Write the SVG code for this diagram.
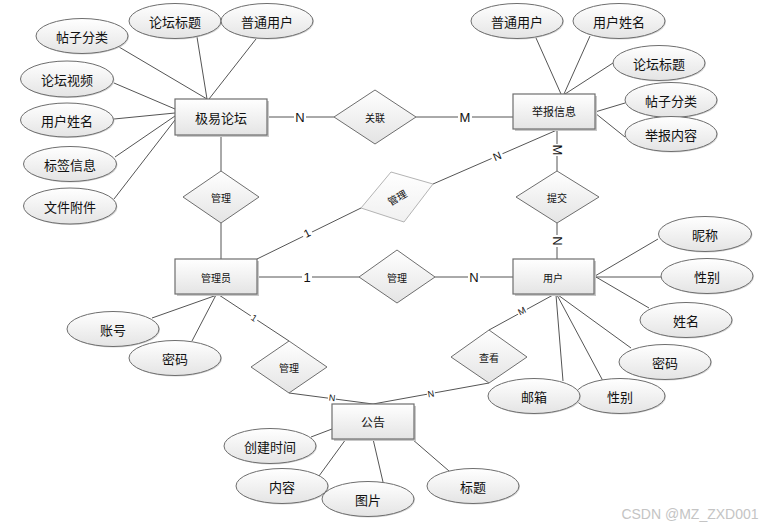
<svg xmlns="http://www.w3.org/2000/svg" width="764" height="528" viewBox="0 0 764 528">
<defs>
<linearGradient id="g" x1="0" y1="0" x2="0" y2="1">
<stop offset="0" stop-color="#ffffff"/>
<stop offset="1" stop-color="#e4e4e4"/>
</linearGradient>
<linearGradient id="gl" x1="0" y1="0" x2="0" y2="1">
<stop offset="0" stop-color="#ffffff"/>
<stop offset="1" stop-color="#f0f0f0"/>
</linearGradient>
</defs>
<style>
.ent rect.b{fill:url(#g);stroke:#6e6e6e;stroke-width:1.2}
.ent rect.s{fill:#c8c8c8}
.att ellipse.b{fill:url(#g);stroke:#6e6e6e;stroke-width:1}
.att ellipse.s{fill:#d4d4d4}
.rel polygon{fill:url(#g);stroke:#6e6e6e;stroke-width:1}
.rel.light polygon{fill:url(#gl);stroke:#b4b4b4}
text{font-family:"Noto Sans CJK SC","Liberation Sans",sans-serif;fill:#111;text-anchor:middle;dominant-baseline:central}
.t13{font-size:13px}
.t12{font-size:12px}
.t11{font-size:11px}
.t10{font-size:10px}
.card{font-family:"Liberation Sans",Arial,sans-serif;font-size:13px}
.cs{font-family:"Liberation Sans",Arial,sans-serif;font-size:11px}
.cx{font-family:"Liberation Sans",Arial,sans-serif;font-size:9px}
#connectors line{stroke:#555;stroke-width:1}
.lbg{fill:#fff}
</style>

<g id="connectors">
<!-- 极易论坛 attributes -->
<line x1="119" y1="47" x2="207" y2="99"/>
<line x1="197" y1="37" x2="207" y2="99"/>
<line x1="256" y1="39" x2="209" y2="99"/>
<line x1="114" y1="83" x2="175" y2="109"/>
<line x1="114" y1="119" x2="175" y2="113"/>
<line x1="115" y1="157" x2="175" y2="116"/>
<line x1="114" y1="199" x2="175" y2="120"/>
<!-- 举报信息 attributes -->
<line x1="536" y1="38" x2="561" y2="94"/>
<line x1="590" y1="36" x2="564" y2="94"/>
<line x1="613" y1="63" x2="565" y2="94"/>
<line x1="625" y1="103" x2="595" y2="112"/>
<line x1="625" y1="137" x2="595" y2="113"/>
<!-- 用户 attributes -->
<line x1="658" y1="239" x2="595" y2="276"/>
<line x1="662" y1="277" x2="595" y2="277"/>
<line x1="649" y1="308" x2="596" y2="277"/>
<line x1="631" y1="348" x2="558" y2="295"/>
<line x1="603" y1="381" x2="557" y2="295"/>
<line x1="563" y1="381" x2="556" y2="295"/>
<!-- 管理员 attributes -->
<line x1="152" y1="318" x2="217" y2="295"/>
<line x1="192" y1="341" x2="216" y2="295"/>
<!-- 公告 attributes -->
<line x1="311" y1="437" x2="332" y2="429"/>
<line x1="319" y1="476" x2="346" y2="439"/>
<line x1="383" y1="482" x2="373" y2="439"/>
<line x1="449" y1="471" x2="412" y2="439"/>
<!-- relationships -->
<line x1="267" y1="117" x2="334" y2="117"/>
<line x1="416" y1="117" x2="513" y2="117"/>
<line x1="221" y1="135" x2="221" y2="171"/>
<line x1="221" y1="223" x2="221" y2="259"/>
<line x1="557" y1="129" x2="557" y2="171"/>
<line x1="557" y1="223" x2="557" y2="259"/>
<line x1="257" y1="259" x2="361" y2="208"/>
<line x1="433" y1="184" x2="557" y2="130"/>
<line x1="257" y1="277" x2="359" y2="277"/>
<line x1="435" y1="277" x2="513" y2="277"/>
<line x1="219" y1="295" x2="289" y2="341"/>
<line x1="289" y1="393" x2="373" y2="404"/>
<line x1="553" y1="295" x2="489" y2="330"/>
<line x1="489" y1="383" x2="373" y2="404"/>
<!-- cardinality labels -->
<rect class="lbg" x="294" y="110" width="12" height="14"/>
<text class="card" x="300" y="117">N</text>
<rect class="lbg" x="458" y="110" width="14" height="14"/>
<text class="card" x="465" y="117">M</text>
<rect class="lbg" x="551" y="144" width="12" height="12"/>
<text class="card" x="557" y="150" transform="rotate(90 557 150)">M</text>
<rect class="lbg" x="551" y="235" width="12" height="12"/>
<text class="card" x="557" y="241" transform="rotate(90 557 241)">N</text>
<rect class="lbg" x="302" y="227" width="10" height="12" transform="rotate(-26 307 233)"/>
<text class="cs" x="307" y="233" transform="rotate(-26 307 233)">1</text>
<rect class="lbg" x="491" y="150" width="12" height="12" transform="rotate(-23 497 156)"/>
<text class="cs" x="497" y="156" transform="rotate(-23 497 156)">N</text>
<rect class="lbg" x="302" y="270" width="10" height="14"/>
<text class="card" x="307" y="277">1</text>
<rect class="lbg" x="468" y="270" width="12" height="14"/>
<text class="card" x="474" y="277">N</text>
<rect class="lbg" x="250" y="313" width="8" height="10" transform="rotate(33 254 318)"/>
<text class="cx" x="254" y="318" transform="rotate(33 254 318)">1</text>
<rect class="lbg" x="517" y="306" width="10" height="10" transform="rotate(-28 522 311)"/>
<text class="cx" x="522" y="311" transform="rotate(-28 522 311)">M</text>
<rect class="lbg" x="427" y="390" width="8" height="9" transform="rotate(-10 431 394)"/>
<text class="cx" x="431" y="394" transform="rotate(-10 431 394)">N</text>
<rect class="lbg" x="328" y="394" width="8" height="9" transform="rotate(7 332 398)"/>
<text class="cx" x="332" y="398" transform="rotate(7 332 398)">N</text>
</g>

<!-- entities -->
<g id="e-forum" class="ent">
<rect class="s" x="177" y="101" width="92" height="36"/>
<rect class="b" x="175" y="99" width="92" height="36"/>
<text class="t13" x="221" y="117">极易论坛</text>
</g>
<g id="e-report" class="ent">
<rect class="s" x="515" y="96" width="82" height="35"/>
<rect class="b" x="513" y="94" width="82" height="35"/>
<text class="t11" x="554" y="111">举报信息</text>
</g>
<g id="e-admin" class="ent">
<rect class="s" x="177" y="261" width="82" height="35"/>
<rect class="b" x="175" y="259" width="82" height="35"/>
<text class="t10" x="216" y="277">管理员</text>
</g>
<g id="e-user" class="ent">
<rect class="s" x="515" y="261" width="81" height="35"/>
<rect class="b" x="513" y="259" width="81" height="35"/>
<text class="t10" x="553" y="277">用户</text>
</g>
<g id="e-notice" class="ent">
<rect class="s" x="334" y="406" width="82" height="35"/>
<rect class="b" x="332" y="404" width="82" height="35"/>
<text class="t12" x="373" y="421">公告</text>
</g>

<!-- relationships -->
<g id="r-manage-forum" class="rel">
<polygon points="221,171 259,197 221,223 183,197"/>
<text class="t10" x="221" y="197">管理</text>
</g>
<g id="r-relate" class="rel">
<polygon points="375,90 416,117 375,144 334,117"/>
<text class="t10" x="375" y="117">关联</text>
</g>
<g id="r-manage-report" class="rel light">
<polygon points="391,172 433,184 404,222 361,208"/>
<text class="t10" x="397" y="197" transform="rotate(-30 397 197)" fill="#333">管理</text>
</g>
<g id="r-submit" class="rel">
<polygon points="557,171 599,197 557,223 516,197"/>
<text class="t10" x="557" y="197">提交</text>
</g>
<g id="r-manage-user" class="rel">
<polygon points="397,250 435,277 397,303 359,277"/>
<text class="t10" x="397" y="277">管理</text>
</g>
<g id="r-manage-notice" class="rel">
<polygon points="289,341 327,367 289,393 251,367"/>
<text class="t10" x="289" y="367">管理</text>
</g>
<g id="r-view" class="rel">
<polygon points="489,330 527,357 489,383 451,357"/>
<text class="t10" x="489" y="357">查看</text>
</g>

<!-- attributes of 极易论坛 -->
<g id="a-f-cat" class="att"><ellipse class="s" cx="83" cy="37" rx="46" ry="17.5"/><ellipse class="b" cx="82" cy="36" rx="46" ry="17.5"/><text class="t13" x="82" y="36">帖子分类</text></g>
<g id="a-f-title" class="att"><ellipse class="s" cx="176" cy="22" rx="46" ry="17.5"/><ellipse class="b" cx="175" cy="21" rx="46" ry="17.5"/><text class="t13" x="175" y="21">论坛标题</text></g>
<g id="a-f-user" class="att"><ellipse class="s" cx="268" cy="22" rx="46" ry="17.5"/><ellipse class="b" cx="267" cy="21" rx="46" ry="17.5"/><text class="t13" x="267" y="21">普通用户</text></g>
<g id="a-f-video" class="att"><ellipse class="s" cx="68" cy="80" rx="46.5" ry="18"/><ellipse class="b" cx="67" cy="79" rx="46.5" ry="18"/><text class="t13" x="67" y="79">论坛视频</text></g>
<g id="a-f-name" class="att"><ellipse class="s" cx="68" cy="121" rx="46.5" ry="17"/><ellipse class="b" cx="67" cy="120" rx="46.5" ry="17"/><text class="t13" x="67" y="120">用户姓名</text></g>
<g id="a-f-tag" class="att"><ellipse class="s" cx="71" cy="165" rx="46.5" ry="17.5"/><ellipse class="b" cx="70" cy="164" rx="46.5" ry="17.5"/><text class="t13" x="70" y="164">标签信息</text></g>
<g id="a-f-file" class="att"><ellipse class="s" cx="71" cy="207" rx="46.5" ry="18"/><ellipse class="b" cx="70" cy="206" rx="46.5" ry="18"/><text class="t13" x="70" y="206">文件附件</text></g>

<!-- attributes of 举报信息 -->
<g id="a-r-user" class="att"><ellipse class="s" cx="518" cy="22" rx="46" ry="17.5"/><ellipse class="b" cx="517" cy="21" rx="46" ry="17.5"/><text class="t13" x="517" y="21">普通用户</text></g>
<g id="a-r-name" class="att"><ellipse class="s" cx="620" cy="22" rx="46" ry="17.5"/><ellipse class="b" cx="619" cy="21" rx="46" ry="17.5"/><text class="t13" x="619" y="21">用户姓名</text></g>
<g id="a-r-title" class="att"><ellipse class="s" cx="660" cy="64" rx="46" ry="17.5"/><ellipse class="b" cx="659" cy="63" rx="46" ry="17.5"/><text class="t13" x="659" y="63">论坛标题</text></g>
<g id="a-r-cat" class="att"><ellipse class="s" cx="672" cy="101" rx="46" ry="17.5"/><ellipse class="b" cx="671" cy="100" rx="46" ry="17.5"/><text class="t13" x="671" y="100">帖子分类</text></g>
<g id="a-r-content" class="att"><ellipse class="s" cx="672" cy="135" rx="46" ry="17.5"/><ellipse class="b" cx="671" cy="134" rx="46" ry="17.5"/><text class="t13" x="671" y="134">举报内容</text></g>

<!-- attributes of 用户 -->
<g id="a-u-nick" class="att"><ellipse class="s" cx="706" cy="235" rx="46.5" ry="17.5"/><ellipse class="b" cx="705" cy="234" rx="46.5" ry="17.5"/><text class="t13" x="705" y="234">昵称</text></g>
<g id="a-u-sex" class="att"><ellipse class="s" cx="708" cy="277" rx="46" ry="17.5"/><ellipse class="b" cx="707" cy="276" rx="46" ry="17.5"/><text class="t13" x="707" y="276">性别</text></g>
<g id="a-u-name" class="att"><ellipse class="s" cx="687" cy="321" rx="46" ry="17.5"/><ellipse class="b" cx="686" cy="320" rx="46" ry="17.5"/><text class="t13" x="686" y="320">姓名</text></g>
<g id="a-u-pwd" class="att"><ellipse class="s" cx="666" cy="363" rx="46" ry="17.5"/><ellipse class="b" cx="665" cy="362" rx="46" ry="17.5"/><text class="t13" x="665" y="362">密码</text></g>
<g id="a-u-sex2" class="att"><ellipse class="s" cx="621" cy="397" rx="45" ry="17.5"/><ellipse class="b" cx="620" cy="396" rx="45" ry="17.5"/><text class="t13" x="620" y="396">性别</text></g>
<g id="a-u-mail" class="att"><ellipse class="s" cx="535" cy="397" rx="46" ry="17.5"/><ellipse class="b" cx="534" cy="396" rx="46" ry="17.5"/><text class="t13" x="534" y="396">邮箱</text></g>

<!-- attributes of 管理员 -->
<g id="a-a-acc" class="att"><ellipse class="s" cx="114" cy="330" rx="46" ry="17.5"/><ellipse class="b" cx="113" cy="329" rx="46" ry="17.5"/><text class="t13" x="113" y="329">账号</text></g>
<g id="a-a-pwd" class="att"><ellipse class="s" cx="176" cy="359" rx="46" ry="17.5"/><ellipse class="b" cx="175" cy="358" rx="46" ry="17.5"/><text class="t13" x="175" y="358">密码</text></g>

<!-- attributes of 公告 -->
<g id="a-n-time" class="att"><ellipse class="s" cx="271" cy="447" rx="46" ry="17.5"/><ellipse class="b" cx="270" cy="446" rx="46" ry="17.5"/><text class="t13" x="270" y="446">创建时间</text></g>
<g id="a-n-content" class="att"><ellipse class="s" cx="283" cy="487" rx="46" ry="17.5"/><ellipse class="b" cx="282" cy="486" rx="46" ry="17.5"/><text class="t13" x="282" y="486">内容</text></g>
<g id="a-n-pic" class="att"><ellipse class="s" cx="369" cy="500" rx="46" ry="17.5"/><ellipse class="b" cx="368" cy="499" rx="46" ry="17.5"/><text class="t13" x="368" y="499">图片</text></g>
<g id="a-n-title" class="att"><ellipse class="s" cx="474" cy="487" rx="46" ry="17.5"/><ellipse class="b" cx="473" cy="486" rx="46" ry="17.5"/><text class="t13" x="473" y="486">标题</text></g>

<text x="690" y="514" style="font-family:'Liberation Sans',Arial,sans-serif;font-size:14px;fill:#c4c4c4">CSDN @MZ_ZXD001</text>
</svg>
